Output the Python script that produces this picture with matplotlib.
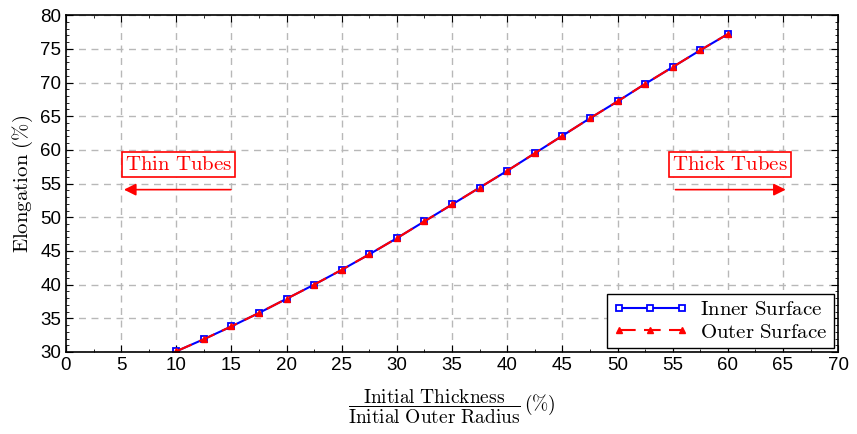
import matplotlib.pyplot as plt
from matplotlib.ticker import MultipleLocator

plt.rcParams['mathtext.fontset'] = 'cm'
plt.rcParams['font.family'] = ['Liberation Sans', 'DejaVu Sans']

# thickness ratio (%)
ratio = [10, 12.5, 15, 17.5, 20, 22.5, 25, 27.5, 30, 32.5, 35,
         37.5, 40, 42.5, 45, 47.5, 50, 52.5, 55, 57.5, 60]
# elongation (%)
inner = [30.1, 31.9, 33.8, 35.8, 37.9, 40.0, 42.2, 44.5, 46.9, 49.4, 51.9,
         54.4, 56.9, 59.5, 62.1, 64.7, 67.2, 69.8, 72.3, 74.8, 77.2]
outer = [30.1, 31.9, 33.8, 35.8, 37.9, 40.0, 42.2, 44.5, 46.9, 49.4, 51.9,
         54.4, 56.9, 59.5, 62.1, 64.7, 67.2, 69.8, 72.3, 74.8, 77.2]

fig = plt.figure(figsize=(8.57, 4.34), dpi=100)
ax = fig.add_axes([0.077, 0.189, 0.901, 0.776])

ax.plot(ratio, inner, color='blue', lw=1.5, marker='s', ms=5,
        mfc='white', mec='blue', mew=1.3, label=r'$\mathrm{Inner\ Surface}$')
ax.plot(ratio, outer, color='red', lw=1.5, ls=(0, (8, 4)), marker='^', ms=4.5,
        mfc='red', mec='red', label=r'$\mathrm{Outer\ Surface}$')

ax.set_xlim(0, 70)
ax.set_ylim(30, 80)
ax.xaxis.set_major_locator(MultipleLocator(5))
ax.xaxis.set_minor_locator(MultipleLocator(2.5))
ax.yaxis.set_major_locator(MultipleLocator(5))
ax.yaxis.set_minor_locator(MultipleLocator(1))
ax.tick_params(which='both', direction='in', top=True, right=True, labelsize=13.5)
ax.tick_params(which='major', length=5)
ax.tick_params(which='minor', length=2.5)
ax.grid(True, ls=(0, (5, 4)), color='#b8b8b8', lw=1)
for s in ax.spines.values():
    s.set_linewidth(1.2)

ax.set_xlabel(r'$\dfrac{\mathrm{Initial\ Thickness}}{\mathrm{Initial\ Outer\ Radius}}\,(\%)$',
              fontsize=14, labelpad=10)
ax.set_ylabel(r'$\mathrm{Elongation}\ (\%)$', fontsize=15, labelpad=4)

box = dict(boxstyle='square,pad=0.15', fc='white', ec='red', lw=1.2)
ax.text(10.2, 57.8, r'$\mathrm{Thin\ Tubes}$', color='red', fontsize=15,
        ha='center', va='center', bbox=box)
ax.text(60.2, 57.8, r'$\mathrm{Thick\ Tubes}$', color='red', fontsize=15,
        ha='center', va='center', bbox=box)
ax.annotate('', xy=(5, 54.1), xytext=(15.2, 54.1),
            arrowprops=dict(arrowstyle='-|>', color='red', lw=1.2, mutation_scale=18))
ax.annotate('', xy=(65.5, 54.1), xytext=(55, 54.1),
            arrowprops=dict(arrowstyle='-|>', color='red', lw=1.2, mutation_scale=18))

leg = ax.legend(loc='lower right', fontsize=15, fancybox=False, edgecolor='black',
                framealpha=1, borderaxespad=0.2, handlelength=3.6, numpoints=3,
                borderpad=0.3, labelspacing=0.15, handletextpad=0.6)
leg.get_frame().set_linewidth(1.0)

fig.savefig('out.png', dpi=100)
